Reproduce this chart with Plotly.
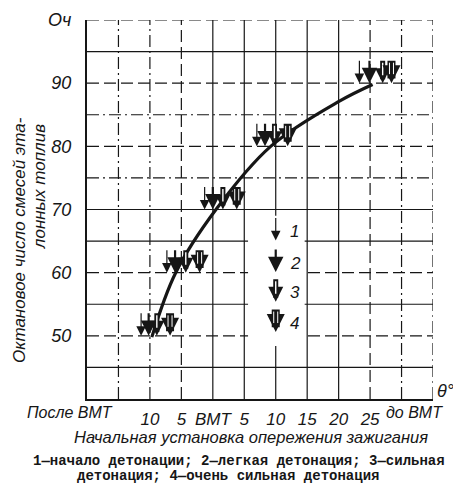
import plotly.graph_objects as go

# smooth curve through the detonation onsets
curve_deg = [-9.7, -5.9, 0.5, 9.2, 20.2, 25.4]
curve_oct = [49.8, 60, 70, 80, 87.2, 89.8]

# arrow groups: octane level and spark advance for each knock intensity
levels = [50, 60, 70, 80, 90]
arrow1_deg = [-11.4, -7.3, -1.3, 7.0, 23.3]
arrow2_deg = [-10.2, -6.0, 0.0, 8.3, 24.9]
arrow3_deg = [-8.9, -4.3, 1.6, 9.8, 27.0]
arrow4_deg = [-6.8, -2.1, 3.8, 11.9, 28.4]

# key inside the plot
legend_deg = 10
legend_tips = [65.1, 60.1, 55.4, 50.6]
legend_labels = ["1", "2", "3", "4"]

x_tickvals = [-10, -5, 0, 5, 10, 15, 20, 25]
x_ticktext = ["10", "5", "ВМТ", "5", "10", "15", "20", "25"]
y_tickvals = [50, 60, 70, 80, 90, 100]
y_ticktext = ["50", "60", "70", "80", "90", "Оч"]

v_grid = [-15, -10, -5, 0, 5, 10, 15, 20, 25, 30, 35]
v_dash = ["dashdot", "dashdot", "dash", "solid", "solid", "solid",
          "solid", "solid", "dash", "dashdot", "dashdot"]
h_grid = [45, 50, 55, 60, 65, 70, 75, 80, 85, 90, 95, 100]
h_dash = ["solid", "dash", "solid", "dash", "solid", "solid",
          "dashdot", "dash", "dashdot", "dash", "solid", "dash"]
DASHES = {"solid": "solid", "dash": "12px,5px", "dashdot": "12px,4px,2px,4px"}

INK = "#161616"
ITAL = dict(family="Liberation Sans Narrow, Liberation Sans, sans-serif",
            size=17, color=INK, style="italic")
TITLE = dict(family="Liberation Sans, sans-serif", size=16.5, color=INK, style="italic")
MONO = dict(family="Liberation Mono, monospace", size=14, color=INK, weight="bold")


def arrow(x, y, kind):
    """Annotations drawing one knock arrow with its tip at (x, y)."""
    base = dict(x=x, y=y, xref="x", yref="y", text="", showarrow=True,
                ax=0, ay=-24, arrowcolor=INK, standoff=0)
    if kind == 1:
        return [dict(base, arrowhead=2, arrowsize=1.6, arrowwidth=1.2)]
    if kind == 2:
        return [dict(base, arrowhead=2, arrowsize=1.4, arrowwidth=2.2)]
    if kind == 3:
        return [dict(base, arrowhead=2, arrowsize=0.6, arrowwidth=5),
                dict(base, arrowhead=0, arrowwidth=1.4, arrowcolor="white",
                     standoff=8, startstandoff=2)]
    out = [dict(base, arrowhead=2, arrowsize=0.45, arrowwidth=8)]
    for dx in (-2.0, 2.0):
        out.append(dict(base, arrowhead=0, arrowwidth=1, arrowcolor="white",
                        standoff=9, startstandoff=2, xshift=dx))
    return out


fig = go.Figure()

fig.add_trace(go.Scatter(
    x=curve_deg, y=curve_oct, mode="lines",
    line=dict(color=INK, width=3.2, shape="spline", smoothing=1.0),
    showlegend=False, hoverinfo="skip",
))

shapes = []
for v, d in zip(v_grid, v_dash):
    shapes.append(dict(type="line", xref="x", yref="paper", x0=v, x1=v, y0=0, y1=1,
                       line=dict(color=INK, width=1.2, dash=DASHES[d]), layer="below"))
for h, d in zip(h_grid, h_dash):
    shapes.append(dict(type="line", xref="paper", yref="y", x0=0, x1=1, y0=h, y1=h,
                       line=dict(color=INK, width=1.2, dash=DASHES[d]), layer="below"))
# white patch behind the key
shapes.append(dict(type="rect", xref="x", yref="y", x0=5.6, x1=14.6, y0=48.4, y1=69,
                   fillcolor="white", line=dict(width=0), layer="below"))

annotations = []
for lvl, a1, a2, a3, a4 in zip(levels, arrow1_deg, arrow2_deg, arrow3_deg, arrow4_deg):
    annotations += arrow(a1, lvl, 1)
    annotations += arrow(a2, lvl, 2)
    annotations += arrow(a3, lvl, 3)
    annotations += arrow(a4, lvl, 4)

for k, (tip, lab) in enumerate(zip(legend_tips, legend_labels), start=1):
    annotations += arrow(legend_deg, tip, k)
    annotations.append(dict(x=legend_deg + 2.0, y=tip + 1.4, xref="x", yref="y",
                            text=lab, showarrow=False, font=ITAL, xanchor="left"))

annotations += [
    dict(x=-15.5, y=0, xref="x", yref="paper", text="После ВМТ", showarrow=False,
         xanchor="right", yanchor="top", yshift=-3, font=dict(ITAL, size=16)),
    dict(x=27.2, y=0, xref="x", yref="paper", text="до ВМТ", showarrow=False,
         xanchor="left", yanchor="top", yshift=-3, font=dict(ITAL, size=16)),
    dict(x=1, y=0, xref="paper", yref="paper", text="θ°", showarrow=False,
         xanchor="left", yanchor="bottom", xshift=2, yshift=-4, font=dict(ITAL, size=18)),
    dict(x=0.474, y=0, xref="paper", yref="paper",
         text="Начальная установка опережения зажигания", showarrow=False,
         xanchor="center", yanchor="middle", yshift=-38, font=TITLE),
    dict(x=-0.1965, y=0.4195, xref="paper", yref="paper",
         text="Октановое число смесей эта-", showarrow=False, textangle=-90,
         xanchor="center", yanchor="middle", font=dict(TITLE, size=17)),
    dict(x=-0.1387, y=0.559, xref="paper", yref="paper",
         text="лонных топлив", showarrow=False, textangle=-90,
         xanchor="center", yanchor="middle", font=dict(TITLE, size=17)),
    dict(x=0.44, y=0, xref="paper", yref="paper",
         text="1—начало детонации; 2—легкая детонация; 3—сильная",
         showarrow=False, xanchor="center", yanchor="middle", yshift=-62, font=MONO),
    dict(x=0.407, y=0, xref="paper", yref="paper",
         text="детонация; 4—очень сильная детонация",
         showarrow=False, xanchor="center", yanchor="middle", yshift=-77, font=MONO),
]

fig.update_xaxes(
    range=[-20, 35], tickvals=x_tickvals, ticktext=x_ticktext, automargin=False,
    showgrid=False, zeroline=False, showline=True, linecolor=INK, linewidth=2.2,
    ticks="", tickfont=ITAL, ticklabelstandoff=3,
)
fig.update_yaxes(
    range=[40, 100], tickvals=y_tickvals, ticktext=y_ticktext, automargin=False,
    showgrid=False, zeroline=False, showline=True, linecolor=INK, linewidth=2.2,
    ticks="", tickfont=dict(ITAL, size=18), ticklabelstandoff=10,
)
# the page body adds an 8px margin, so the figure is 8px smaller and shifted
fig.update_layout(
    width=453, height=489,
    margin=dict(l=79, r=28, t=12, b=98),
    paper_bgcolor="white", plot_bgcolor="white",
    shapes=shapes, annotations=annotations, showlegend=False,
)

fig.write_html("out.html")
